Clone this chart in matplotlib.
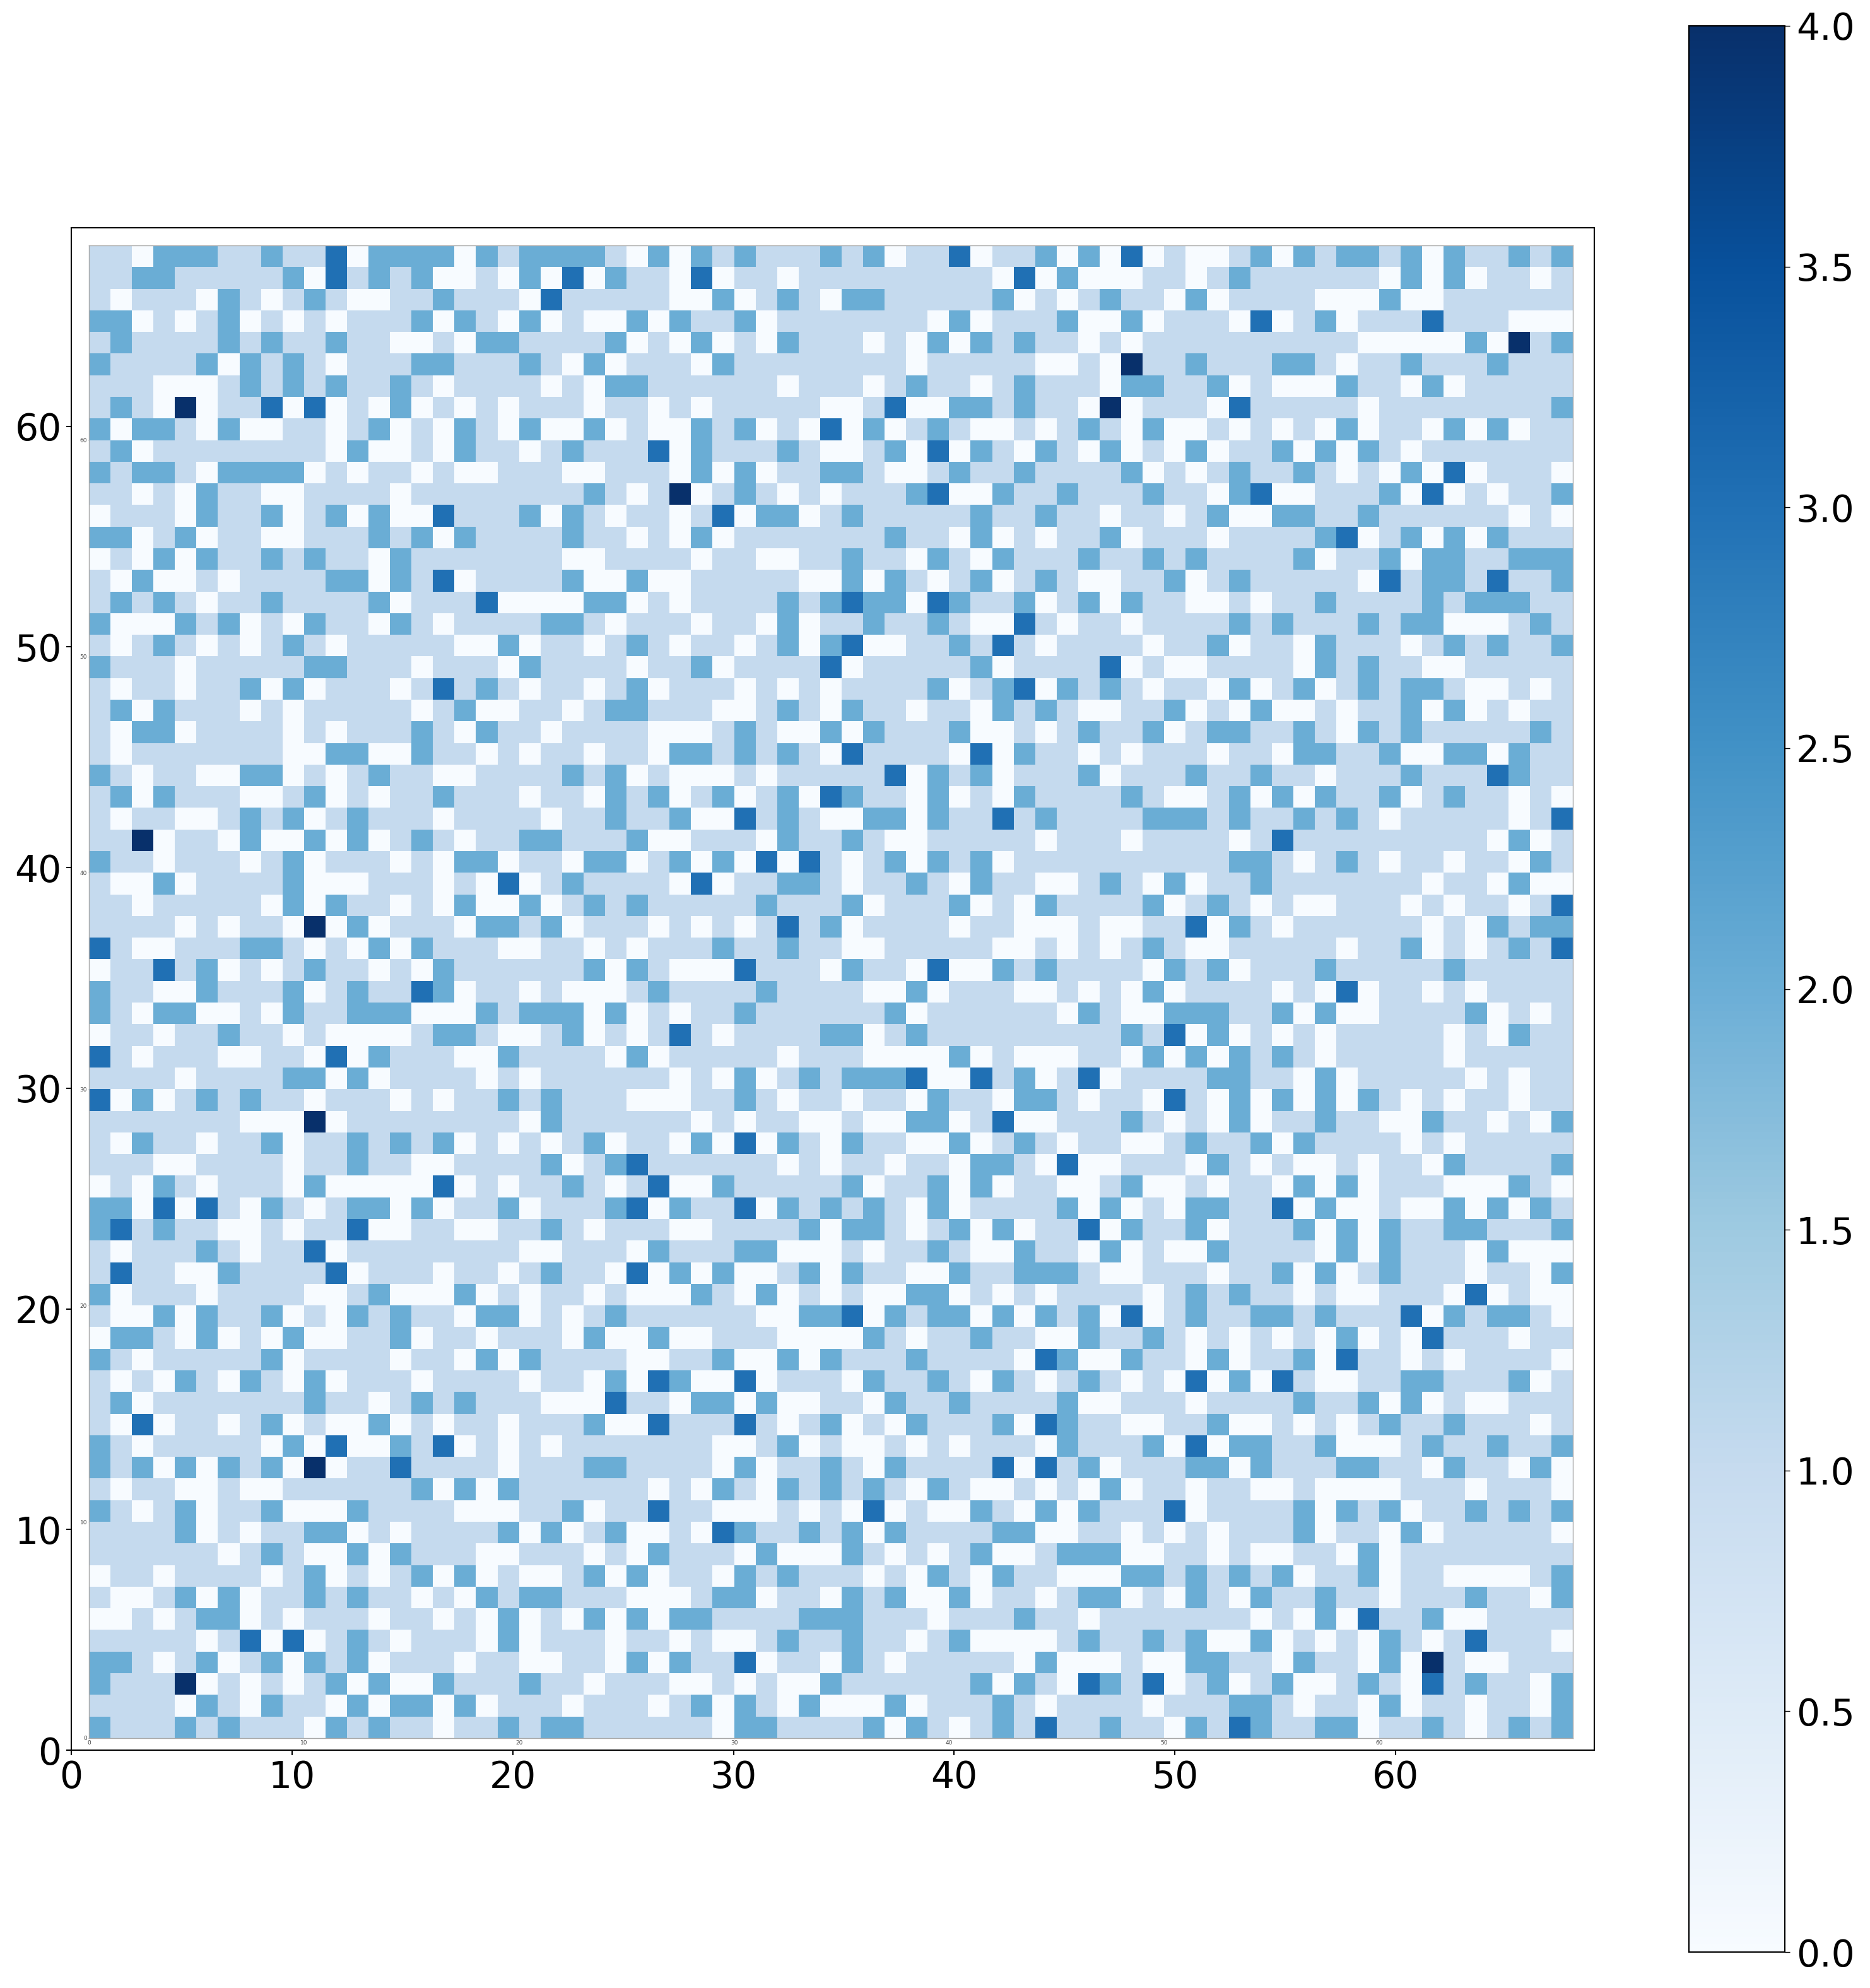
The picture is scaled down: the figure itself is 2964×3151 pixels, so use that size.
import numpy as np
import matplotlib
matplotlib.use("Agg")
import matplotlib.pyplot as plt

# Cell values, top row first; each row is written in three
# pieces (columns 0-22, 23-44, 45-68).
rows_top = [
"11022211211302222021222 2102021211121201130112 020301001202122120211212",
"11221111120312120010203 0211030110111111111030 200011012111111020201101",
"10111021012100112111031 1111002012102211111201 012110201111000200111111",
"22010120101011120210201 0020211201111111020111 200201110301201113111000",
"12111121211211001022111 1201020102111010202121 101011111111110000020412",
"21111202121011122111210 2011102111111110111110 010411211122101121112111",
"11100012121211210111101 0221111110111012110121 110221120100021102011111",
"12104011303010201010111 0110101111100130022121 104011103111110111111112",
"20221020011012010210200 2010021201030201210010 121020010101020110202011",
"12011111111020010211012 1113021112100120302102 102010201120202101111111",
"21221022220101101001110 0111020201122100121121 111201012112101020301110",
"11010211001111011111111 2101401210101112300211 211121102300111203010112",
"01110211201202003111202 1011013022012111112112 110110120022112111111010",
"22012011001112120211112 1101020111111121102010 112011101111230120202111",
"01020211212110211111110 0111101100112110210211 121121211112011202211222",
"10200101111220213011112 0020011111002021012012 100112012111110312213112",
"12121011211112011130000 2201011112123220321120 120211001011211112122211",
"20002120102110210111122 1011101102011211210031 011011112121112122000121",
"10121010121011111002011 0121011012023001121310 111101120110211101212112",
"21110111112211101110211 1101120111130111112011 113010011110212110011111",
"10110112020111013121011 0120111010101111201230 212101102012012122100101",
"12021110101111101200110 1221110012102110110212 100112010200101120201011",
"10220111101011121021101 1110001210020211120010 121120122112102121111121",
]
rows_middle = [
"10111111100220021101011 0110221212103111103021 101011101102211200220211",
"21011002201012110011112 1201000101111130212011 120111211211011121113211",
"12021110012010112111011 0212012012032110201021 111210012020211201211010",
"10110012120121110111101 1211200312100220211312 111122212112121011111013",
"11401102002020121011221 1120011102112100111110 111011110131111111110201",
"21101110120111010220110 2201202030310120212011 111111112210121011011021",
"10020111120001110103012 1111030112210112102110 012102011211111110110200",
"11011111020211010200201 2121111121112011120102 111120121010011101011013",
"11110101104020111022120 1110101013120111101100 010011302101111110102122",
"31001112210102021110011 0101112112110011111001 010121001111101120101213",
"01131201012110102111111 2021000311102110300212 111102120111211111211111",
"21100211120121132011010 0012111121111002011100 101020111101030110101111",
"21022001021122200021222 0201011211111120111111 021002221120200111120101",
"01101121101000012210012 0101310111122012111111 111213020101011111010211",
"31011100110302111002111 1020111110111000020100 011020202121011111011111",
"11110111122020111101011 1111010201212223003120 130111122110201111101011",
"30201212110111010112121 1100011210110110211022 101103102020202101011011",
"11111110004011111111021 1111101011001002201300 111210102011211002110102",
"10211011201121212010101 2011020302102110020121 011001211202111101011111",
"11100111101121100111120 1231111110101101102210 300111021010010110211112",
"01021011102000003010112 1013002111112011202011 001200101102020111000210",
"22030310210122020112011 1230211302121210201111 202010221130200100202021",
"23121100101130011001121 0111001111202210120201 130211201112020211221112",
"10111210113011111111001 1102111220001011210021 102010021111020211102000",
]
rows_bottom = [
"13110021111301110110121 1030202001202110021122 210011101120201211101102",
"20111011110012000201011 0100021020101002201010 111101212110100111030100",
"10020211201021211022010 1211111100223021220202 120301211221211130212210",
"02210201020011201101110 2002001110000210112110 021121010101020103111011",
"21011111201111011020211 1100112002021112111103 200211020112031101011110",
"10102102102011101111011 0203200301110211210210 121010302031001122111201",
"12011111112110121211100 0311022020011021121111 200111011112112020100111",
"10301101201002010110111 2003111310120102111203 211001120010101211211101",
"21011111020300213010101 1111110012010010101110 211120302211200012112112",
"21202021204011311110111 2211110201121021111303 120111220211122110211020",
"10110010011111120202111 1110102102121210210010 102011011001000011101110",
"21012011200021111000112 0113110001010301002102 021113011112021201121212",
"11112010112201011112020 1200103211212021111220 011010101112011020111110",
"11111101210020211100111 0102111020002101012001 222001101001102011111111",
"01101111012010120201001 2020110212111010210211 000221212120112011000012",
"10012020112121101021221 1100012201102120020110 122010210211211011121102",
"00101220101110110102010 2020221111222111011121 101111111010203112001111",
"11111013030121011102011 1011010012112110120000 121121200201010210131110",
"22101201202120111011001 1020211301102101111102 000100221102110204100111",
"21114010101202002111211 0111001010021111112021 032130120120012103121102",
"11110210211020220201110 1110120210200020111210 111101112210110201101102",
"21112121110212110112122 1111110221111202101213 112110213211220112101212",
]
axis_ticks = [0, 10, 20, 30, 40, 50, 60]
colorbar_ticks = [0.0, 0.5, 1.0, 1.5, 2.0, 2.5, 3.0, 3.5, 4.0]

rows = rows_top + rows_middle + rows_bottom
data = np.array([[int(c) for c in r.replace(" ", "")] for r in rows], dtype=float)
n_rows, n_cols = data.shape

W, H, DPI = 2964, 3151, 100
plt.rcParams["font.family"] = "DejaVu Sans"
fig = plt.figure(figsize=(W / DPI, H / DPI), dpi=DPI, facecolor="white")


def rect(l, t, r, b):
    return [l / W, 1 - b / H, (r - l) / W, (b - t) / H]


# Outer frame axes with large tick labels
outer = fig.add_axes(rect(113, 361, 2527, 2774))
outer.set_xlim(0, n_cols)
outer.set_ylim(0, n_rows)
outer.set_xticks(axis_ticks)
outer.set_yticks(axis_ticks)
outer.tick_params(labelsize=42, length=6, width=1.5, pad=5)
for s in outer.spines.values():
    s.set_linewidth(1.5)

# Inner heatmap with its tiny own axes
inner = fig.add_axes(rect(141, 389, 2493, 2755))
im = inner.imshow(data, cmap="Blues", vmin=0, vmax=4, origin="upper",
                  extent=(0, n_cols, 0, n_rows), aspect="auto",
                  interpolation="nearest")
inner.set_xticks(axis_ticks)
inner.set_yticks(axis_ticks)
inner.tick_params(labelsize=6.5, length=0.8, width=0.4, pad=1.2,
                  color="#888888", labelcolor="#444444")
for s in inner.spines.values():
    s.set_linewidth(1.0)
    s.set_color("#a8a8a8")

# Colorbar
cax = fig.add_axes(rect(2677, 41, 2829, 3094))
cb = fig.colorbar(im, cax=cax)
cb.set_ticks(colorbar_ticks)
cb.ax.tick_params(labelsize=42, length=6, width=1.0, pad=7)
cb.outline.set_linewidth(1.5)

fig.savefig("out.png", dpi=DPI, facecolor="white")
